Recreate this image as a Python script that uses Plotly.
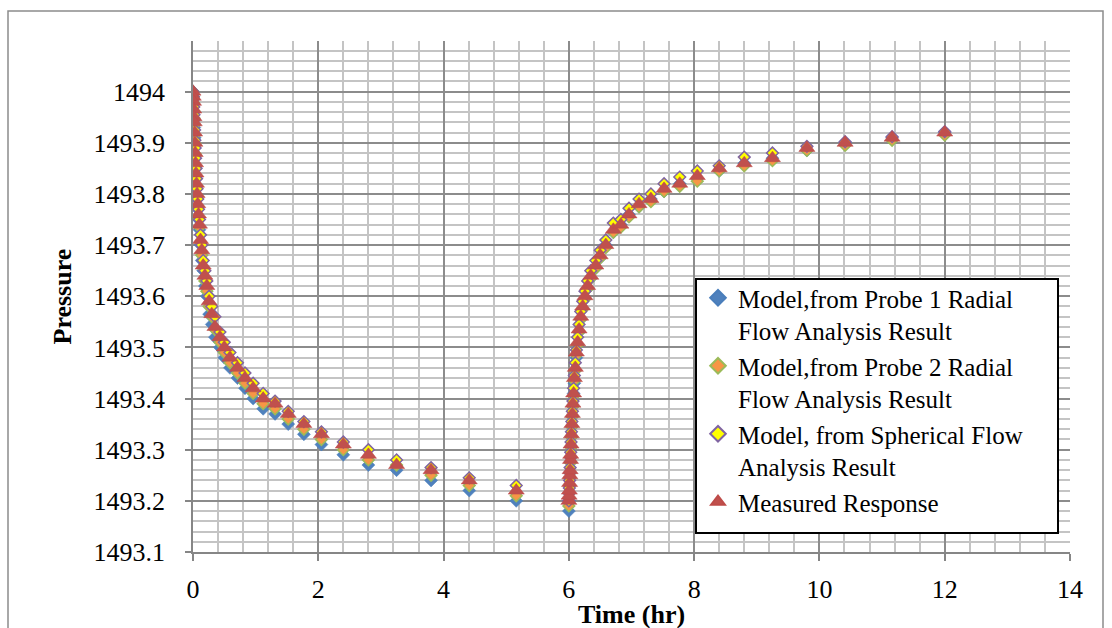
import plotly.graph_objects as go

# Elapsed time (hr): drawdown period, then build-up after shut-in at 6 hr
time_drawdown = [0, 0.004, 0.008, 0.012, 0.016, 0.020, 0.026, 0.030, 0.035, 0.041,
                 0.048, 0.056, 0.065, 0.076, 0.088, 0.103, 0.120, 0.140, 0.163, 0.190,
                 0.221, 0.257, 0.30, 0.35, 0.43, 0.50, 0.59, 0.71, 0.83, 0.96,
                 1.12, 1.31, 1.52, 1.77, 2.05, 2.40, 2.80, 3.25, 3.80, 4.41, 5.16, 6.00]
time_buildup = [6.004, 6.008, 6.012, 6.016, 6.020, 6.026, 6.030, 6.035, 6.041, 6.048,
                6.056, 6.065, 6.076, 6.088, 6.103, 6.120, 6.140, 6.163, 6.190, 6.221,
                6.257, 6.30, 6.35, 6.43, 6.50, 6.59, 6.71, 6.83, 6.96, 7.12,
                7.31, 7.52, 7.77, 8.05, 8.40, 8.80, 9.25, 9.80, 10.41, 11.16, 12.00]

# Pressure, model from Probe 1 radial flow analysis
probe1_drawdown = [1494.00, 1493.99, 1493.975, 1493.96, 1493.945, 1493.93, 1493.91, 1493.895, 1493.875, 1493.85,
                   1493.83, 1493.81, 1493.79, 1493.77, 1493.75, 1493.73, 1493.70, 1493.67, 1493.65, 1493.62,
                   1493.60, 1493.565, 1493.545, 1493.52, 1493.50, 1493.48, 1493.46, 1493.44, 1493.42, 1493.40,
                   1493.38, 1493.37, 1493.35, 1493.33, 1493.31, 1493.29, 1493.27, 1493.26, 1493.24, 1493.22, 1493.20, 1493.18]
probe1_buildup = [1493.20, 1493.215, 1493.23, 1493.245, 1493.255, 1493.275, 1493.285, 1493.305, 1493.325, 1493.345,
                  1493.365, 1493.385, 1493.41, 1493.43, 1493.455, 1493.48, 1493.505, 1493.53, 1493.555, 1493.575,
                  1493.595, 1493.615, 1493.635, 1493.655, 1493.675, 1493.70, 1493.725, 1493.74, 1493.76, 1493.775,
                  1493.79, 1493.805, 1493.82, 1493.83, 1493.845, 1493.86, 1493.87, 1493.885, 1493.90, 1493.91, 1493.92]

# Pressure, model from Probe 2 radial flow analysis
probe2_drawdown = [1494.00, 1493.99, 1493.978, 1493.962, 1493.948, 1493.935, 1493.915, 1493.898, 1493.878, 1493.855,
                   1493.835, 1493.815, 1493.795, 1493.775, 1493.755, 1493.735, 1493.705, 1493.68, 1493.655, 1493.63,
                   1493.61, 1493.58, 1493.56, 1493.535, 1493.51, 1493.49, 1493.47, 1493.45, 1493.43, 1493.41,
                   1493.39, 1493.38, 1493.36, 1493.34, 1493.32, 1493.30, 1493.28, 1493.27, 1493.25, 1493.23, 1493.21, 1493.19]
probe2_buildup = [1493.205, 1493.215, 1493.23, 1493.245, 1493.255, 1493.275, 1493.285, 1493.305, 1493.325, 1493.345,
                  1493.365, 1493.385, 1493.405, 1493.435, 1493.455, 1493.485, 1493.505, 1493.53, 1493.555, 1493.575,
                  1493.595, 1493.615, 1493.635, 1493.655, 1493.675, 1493.695, 1493.725, 1493.735, 1493.755, 1493.775,
                  1493.785, 1493.805, 1493.815, 1493.825, 1493.845, 1493.855, 1493.865, 1493.885, 1493.895, 1493.905, 1493.915]

# Pressure, model from spherical flow analysis
spherical_drawdown = [1494.00, 1493.99, 1493.985, 1493.97, 1493.955, 1493.945, 1493.925, 1493.905, 1493.89, 1493.87,
                      1493.85, 1493.83, 1493.81, 1493.79, 1493.77, 1493.75, 1493.72, 1493.70, 1493.67, 1493.65,
                      1493.63, 1493.60, 1493.58, 1493.56, 1493.53, 1493.51, 1493.49, 1493.47, 1493.45, 1493.43,
                      1493.41, 1493.395, 1493.375, 1493.355, 1493.335, 1493.315, 1493.30, 1493.28, 1493.265, 1493.245, 1493.23, 1493.20]
spherical_buildup = [1493.215, 1493.225, 1493.24, 1493.255, 1493.265, 1493.285, 1493.295, 1493.315, 1493.335, 1493.355,
                     1493.375, 1493.395, 1493.42, 1493.445, 1493.47, 1493.495, 1493.52, 1493.545, 1493.57, 1493.59,
                     1493.61, 1493.63, 1493.65, 1493.67, 1493.69, 1493.71, 1493.743, 1493.75, 1493.772, 1493.79,
                     1493.80, 1493.82, 1493.833, 1493.845, 1493.855, 1493.872, 1493.88, 1493.893, 1493.902, 1493.912, 1493.922]

# Measured pressure response
measured_drawdown = [1494.00, 1493.99, 1493.98, 1493.965, 1493.95, 1493.94, 1493.92, 1493.90, 1493.88, 1493.86,
                     1493.84, 1493.82, 1493.80, 1493.78, 1493.76, 1493.74, 1493.71, 1493.69, 1493.66, 1493.64,
                     1493.62, 1493.59, 1493.565, 1493.54, 1493.52, 1493.50, 1493.48, 1493.46, 1493.44, 1493.42,
                     1493.40, 1493.39, 1493.37, 1493.35, 1493.33, 1493.31, 1493.29, 1493.27, 1493.26, 1493.24, 1493.22, 1493.20]
measured_buildup = [1493.21, 1493.22, 1493.235, 1493.25, 1493.26, 1493.28, 1493.29, 1493.31, 1493.33, 1493.35,
                    1493.37, 1493.39, 1493.41, 1493.44, 1493.46, 1493.49, 1493.51, 1493.535, 1493.56, 1493.58,
                    1493.60, 1493.62, 1493.64, 1493.66, 1493.68, 1493.70, 1493.73, 1493.74, 1493.76, 1493.78,
                    1493.79, 1493.81, 1493.82, 1493.835, 1493.85, 1493.86, 1493.87, 1493.89, 1493.90, 1493.91, 1493.92]

series_names = [
    "Model,from Probe 1 Radial<br>Flow Analysis Result",
    "Model,from Probe 2 Radial<br>Flow Analysis Result",
    "Model, from Spherical Flow<br>Analysis Result",
    "Measured Response",
]

x_ticks = [0, 2, 4, 6, 8, 10, 12, 14]
y_ticks = [1493.1, 1493.2, 1493.3, 1493.4, 1493.5, 1493.6, 1493.7, 1493.8, 1493.9, 1494.0]

FONT = "Liberation Serif"
time_all = time_drawdown + time_buildup

fig = go.Figure()
fig.add_trace(go.Scatter(
    x=time_all, y=probe1_drawdown + probe1_buildup, mode="markers", name=series_names[0],
    marker=dict(symbol="diamond", size=10, color="#4F81BD", line=dict(color="#4A7EBB", width=0.5)),
))
fig.add_trace(go.Scatter(
    x=time_all, y=probe2_drawdown + probe2_buildup, mode="markers", name=series_names[1],
    marker=dict(symbol="diamond", size=9, color="#F79646", line=dict(color="#9BBB59", width=1.5)),
))
fig.add_trace(go.Scatter(
    x=time_all, y=spherical_drawdown + spherical_buildup, mode="markers", name=series_names[2],
    marker=dict(symbol="diamond", size=9, color="#FFFF00", line=dict(color="#8064A2", width=1.5)),
))
fig.add_trace(go.Scatter(
    x=time_all, y=measured_drawdown + measured_buildup, mode="markers", name=series_names[3],
    marker=dict(symbol="triangle-up", size=14, color="#C0504D", line=dict(color="#BE4B48", width=0.5)),
))

# plot area geometry in pixels (used for paper-coordinate shapes)
L, R, T, B = 193, 1070, 41, 552
W, H = R - L, B - T


def px_x(p):
    return (p - L) / W


def px_y(p):
    return (B - p) / H


shapes = [
    # outer chart border
    dict(type="rect", xref="paper", yref="paper", layer="below",
         x0=px_x(8), x1=px_x(1103), y0=px_y(660), y1=px_y(11),
         line=dict(color="#8C8C8C", width=1.5), fillcolor="rgba(0,0,0,0)"),
    # legend frame
    dict(type="rect", xref="paper", yref="paper", layer="above",
         x0=px_x(696), x1=px_x(1058), y0=px_y(533), y1=px_y(279),
         line=dict(color="#000000", width=2), fillcolor="#FFFFFF"),
]

fig.update_layout(
    width=1112, height=628, autosize=False,
    margin=dict(l=L, r=1112 - R, t=T, b=628 - B),
    paper_bgcolor="white", plot_bgcolor="white",
    font=dict(family=FONT, size=25, color="black"),
    showlegend=True,
    legend=dict(
        x=px_x(698), y=px_y(275), xanchor="left", yanchor="top",
        bgcolor="rgba(0,0,0,0)", borderwidth=0,
        font=dict(family=FONT, size=25, color="black"),
        valign="top", itemsizing="constant", tracegroupgap=0,
    ),
    shapes=shapes,
    annotations=[
        dict(text="<b>Pressure</b>", xref="paper", yref="paper", x=px_x(62), y=0.5,
             textangle=-90, showarrow=False, xanchor="center", yanchor="middle",
             font=dict(family=FONT, size=26, color="black")),
        dict(text="<b>Time (hr)</b>", xref="paper", yref="paper", x=0.5, y=px_y(614),
             showarrow=False, xanchor="center", yanchor="middle",
             font=dict(family=FONT, size=26, color="black")),
    ],
)

fig.update_xaxes(
    range=[0, 14], tickvals=x_ticks, ticktext=[str(v) for v in x_ticks],
    showgrid=True, gridcolor="#8C8C8C", gridwidth=1.5,
    minor=dict(dtick=0.4, tick0=0, showgrid=True, gridcolor="#C4C4C4", gridwidth=1.5),
    showline=True, linecolor="#868686", linewidth=1.5,
    ticks="outside", ticklen=7, tickcolor="#868686", tickwidth=1.5,
    ticklabelstandoff=6, zeroline=False,
    tickfont=dict(family=FONT, size=26, color="black"),
)
fig.update_yaxes(
    range=[1493.1, 1494.099], tickvals=y_ticks, ticktext=[f"{v:g}" for v in y_ticks],
    showgrid=True, gridcolor="#8C8C8C", gridwidth=1.5,
    minor=dict(dtick=0.02, tick0=1493.1, showgrid=True, gridcolor="#C4C4C4", gridwidth=1.5),
    showline=True, linecolor="#868686", linewidth=1.5,
    ticks="outside", ticklen=6, tickcolor="#868686", tickwidth=1.5,
    ticklabelstandoff=15, zeroline=False,
    tickfont=dict(family=FONT, size=26, color="black"),
)

fig.write_html("out.html")
